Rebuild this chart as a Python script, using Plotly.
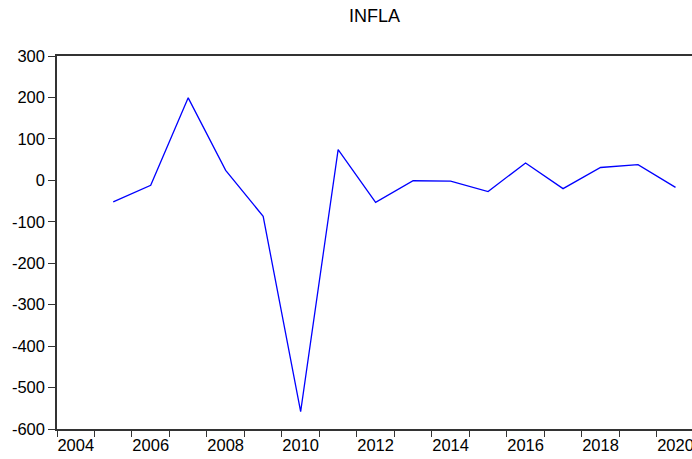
import plotly.graph_objects as go

years = list(range(2005, 2021))
infla = [-52, -12, 199, 24, -87, -558, 74, -53, -1, -2, -27, 42, -20, 31, 38, -17]
x_tick_vals = [2004, 2006, 2008, 2010, 2012, 2014, 2016, 2018, 2020]
x_tick_text = [str(v) for v in x_tick_vals]
y_tick_vals = list(range(-600, 301, 100))
y_tick_text = [str(v) for v in y_tick_vals]

fig = go.Figure()
fig.add_trace(go.Scatter(x=years, y=infla, mode="lines",
                         line=dict(color="#0000FF", width=1.3), showlegend=False))

fig.update_layout(
    width=692, height=459,
    margin=dict(l=57, r=0, t=56, b=30),
    paper_bgcolor="white", plot_bgcolor="white",
    font=dict(family="Liberation Sans, Arial, sans-serif", size=16.5, color="black"),
    title=dict(text="INFLA", x=0.5, xref="paper", xanchor="center",
               y=1 - 16 / 459, yref="container", yanchor="middle",
               font=dict(size=18, color="black")),
    xaxis=dict(range=[2003.5, 2020.44], tickvals=x_tick_vals, ticktext=x_tick_text,
               ticks="", showgrid=False, zeroline=False, automargin=False,
               ticklabeloverflow="allow",
               showline=True, linecolor="#333333", linewidth=1.5, mirror=True,
               minor=dict(tickvals=[y + 0.5 for y in range(2003, 2021)], ticks="outside",
                          ticklen=6, tickcolor="#333333", tickwidth=1, showgrid=False),
               tickfont=dict(size=16.5)),
    yaxis=dict(range=[-600, 300], tickvals=y_tick_vals, ticktext=y_tick_text,
               ticks="outside", ticklen=7, automargin=False,
               tickcolor="#333333", showgrid=False, zeroline=False,
               showline=True, linecolor="#333333", linewidth=1.5, mirror=False,
               tickfont=dict(size=16.5)),
)

fig.write_html("out.html", config={"displayModeBar": False},
               post_script="document.body.style.margin='0';document.body.style.overflow='hidden';")
